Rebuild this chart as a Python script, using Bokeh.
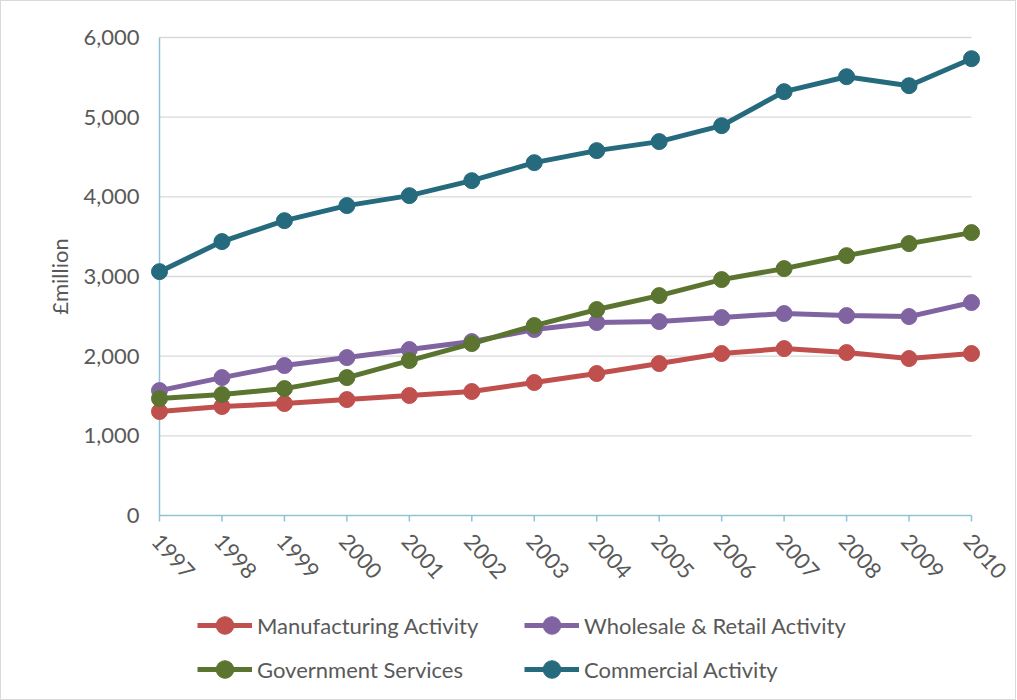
import math
from bokeh.plotting import figure
from bokeh.models import Legend, LegendItem, Range1d
from bokeh.core.properties import value
from bokeh.embed import file_html
from bokeh.resources import INLINE

years = [1997, 1998, 1999, 2000, 2001, 2002, 2003, 2004, 2005, 2006, 2007, 2008, 2009, 2010]
year_labels = [str(y) for y in years]
manufacturing = [1305, 1368, 1405, 1455, 1506, 1556, 1669, 1782, 1907, 2033, 2095, 2045, 1970, 2033]
wholesale = [1568, 1731, 1882, 1982, 2083, 2183, 2334, 2422, 2434, 2484, 2535, 2509, 2497, 2673]
government = [1468, 1518, 1593, 1731, 1945, 2158, 2384, 2585, 2760, 2961, 3099, 3262, 3413, 3551]
commercial = [3061, 3438, 3701, 3890, 4015, 4203, 4429, 4580, 4693, 4893, 5320, 5508, 5395, 5734]
series_names = ["Manufacturing Activity", "Wholesale & Retail Activity", "Government Services", "Commercial Activity"]
colors = ["#c0504d", "#8064a2", "#5b7530", "#266b7d"]
y_ticks = [0, 1000, 2000, 3000, 4000, 5000, 6000]
y_tick_labels = [f"{v:,}" for v in y_ticks]
y_title = "£million"

FONT = "Lato"
TXT = "#595959"
AXC = "#8fc3d5"

# layout (pixels): plot area x 158..970, y 36..514; whole canvas is the frame
W, H = 1016, 700
PL, PR, PT, PB = 158, 970, 36, 514
xspan = years[-1] - years[0]
yspan = y_ticks[-1] - y_ticks[0]
x_start = years[0] - xspan * PL / (PR - PL)
x_end = years[-1] + xspan * (W - PR) / (PR - PL)
y_end = y_ticks[-1] + yspan * PT / (PB - PT)
y_start = y_ticks[0] - yspan * (H - PB) / (PB - PT)

p = figure(width=W, height=H, output_backend="svg", toolbar_location=None,
           x_range=Range1d(x_start, x_end), y_range=Range1d(y_start, y_end),
           min_border_left=0, min_border_right=0, min_border_top=0, min_border_bottom=0)
p.styles = {"border": "1px solid #d9d9d9"}
p.outline_line_color = None
p.background_fill_color = "white"
p.border_fill_color = "white"
p.xaxis.visible = False
p.yaxis.visible = False
p.xgrid.visible = False
p.ygrid.visible = False

n = len(y_ticks)
# horizontal gridlines
p.segment(x0=[years[0]] * (n - 1), y0=y_ticks[1:], x1=[years[-1]] * (n - 1), y1=y_ticks[1:],
          line_color="#d9d9d9", line_width=1.3)
# axis lines
p.segment(x0=[years[0], years[0]], y0=[y_ticks[0], y_ticks[0]],
          x1=[years[0], years[-1]], y1=[y_ticks[-1], y_ticks[0]],
          line_color=AXC, line_width=1.5)
# x ticks
p.ray(x=years, y=[0] * len(years), length=6, length_units="screen", angle=-math.pi / 2,
      line_color=AXC, line_width=1.5)

# y tick labels
p.text(x=[years[0]] * n, y=y_ticks, text=y_tick_labels, x_offset=-20,
       text_align="right", text_baseline="middle",
       text_font=value(FONT), text_font_size="22px", text_color=TXT)

# rotated year labels
p.text(x=years, y=[0] * len(years), text=year_labels, angle=-0.84,
       x_offset=2, y_offset=17, text_align="left", text_baseline="top",
       text_font=value(FONT), text_font_size="22px", text_color=TXT)

# y axis title
p.text(x=[years[0]], y=[(y_ticks[0] + y_ticks[-1]) / 2], text=[y_title], angle=math.pi / 2,
       x_offset=-100, text_align="center", text_baseline="middle",
       text_font=value(FONT), text_font_size="22px", text_color=TXT)

renderers = {}
for name, vals, c in zip(series_names, [manufacturing, wholesale, government, commercial], colors):
    l = p.line(years, vals, line_color=c, line_width=5)
    s = p.scatter(years, vals, size=16, fill_color=c, line_color=c)
    renderers[name] = [l, s]

order = [series_names[0], series_names[2], series_names[1], series_names[3]]
items = [LegendItem(label=nm, renderers=renderers[nm]) for nm in order]

legend = Legend(items=items, ncols=2, location=(196, 10),
                glyph_width=55, glyph_height=44, label_standoff=5,
                label_width=267, spacing=0, padding=0, margin=0,
                label_text_font=FONT, label_text_font_size="22px", label_text_color=TXT,
                border_line_color=None, background_fill_alpha=0)
p.add_layout(legend, "center")

open("out.html", "w").write(file_html(p, INLINE))
